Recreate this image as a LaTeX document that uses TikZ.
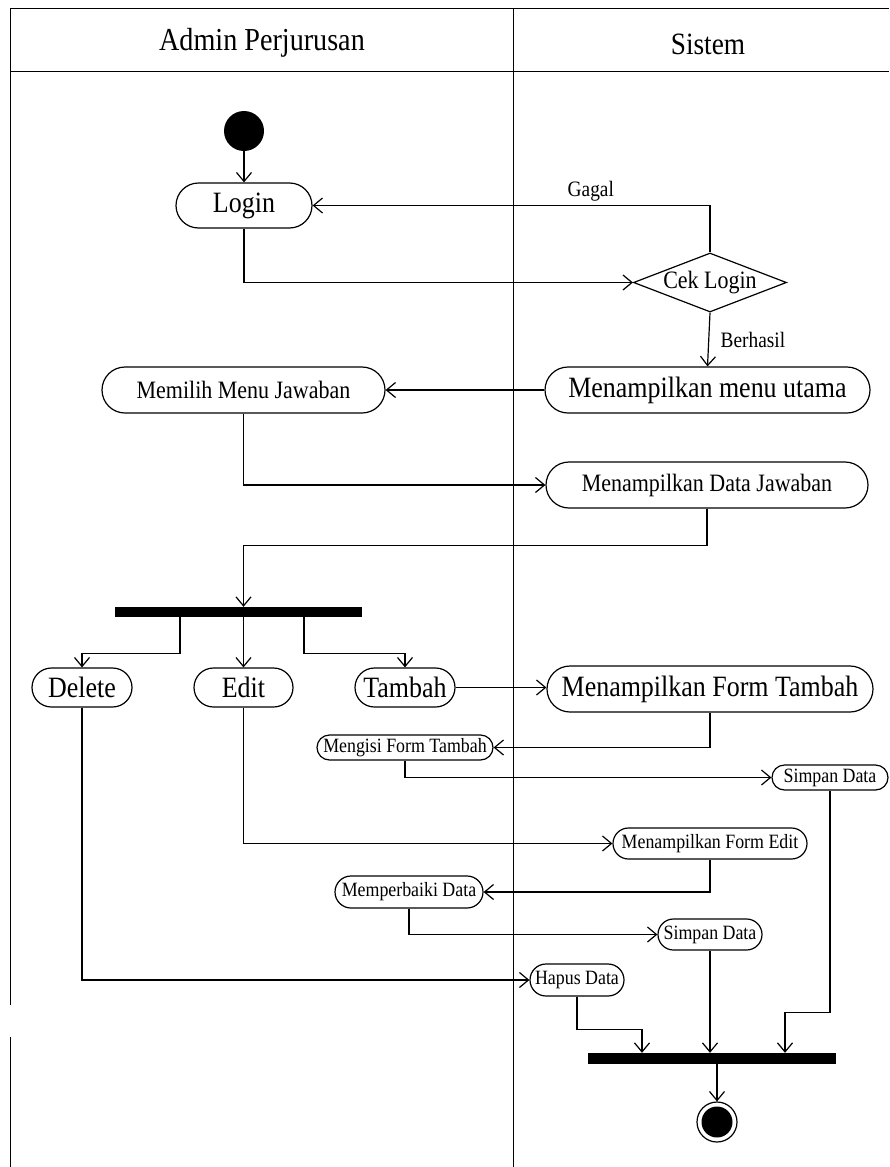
\documentclass[tikz,border=0pt]{standalone}
\usepackage{fontspec}
\setmainfont[FakeStretch=0.88]{Liberation Serif}
\usetikzlibrary{arrows.meta,shapes.misc,shapes.geometric}

\begin{document}
\begin{tikzpicture}[x=1pt,y=-1pt,
    act/.style={rounded rectangle, draw, line width=1.2pt, inner sep=0pt},
    bigtxt/.style={font=\fontsize{29.5}{31}\selectfont},
    midtxt/.style={font=\fontsize{25}{27}\selectfont},
    smalltxt/.style={font=\fontsize{20.3}{22}\selectfont},
    guardtxt/.style={font=\fontsize{22}{24}\selectfont},
    syncbar/.style={rectangle, fill=black, inner sep=0pt},
    flow/.style={draw, line width=1.2pt, -{Straight Barb[length=9pt,width=15pt]}},
    lane/.style={line width=1pt}]

    \useasboundingbox (0,0) rectangle (889,1167);

    % Swimlanes
    \draw[lane] (10,8) -- (889,8);
    \draw[lane] (10,71) -- (889,71);
    \draw[lane] (10,8) -- (10,1005);
    \draw[lane] (10,1037) -- (10,1167);
    \draw[lane] (513,8) -- (513,1167);
    \node[font=\fontsize{32}{34}\selectfont] (admin) at (262,43) {Admin Perjurusan};
    \node[font=\fontsize{31}{34}\selectfont] (sistem) at (708,44) {Sistem};

    % Start and login
    \node[circle, fill=black, minimum size=40pt, inner sep=0pt] (start) at (244,131) {};
    \node[act, bigtxt, minimum width=136pt, minimum height=45pt] (login) at (244,205.5) {Login};
    \node[diamond, draw, line width=1.2pt, midtxt, inner sep=0pt, aspect=2.6,
          minimum width=153pt, minimum height=59pt] (cek) at (710,282.5) {Cek Login};
    \node[act, bigtxt, minimum width=325pt, minimum height=46pt] (menu) at (707.5,390) {Menampilkan menu utama};
    \node[act, midtxt, minimum width=283pt, minimum height=46pt] (memilih) at (243.5,390) {Memilih Menu Jawaban};
    \node[act, midtxt, minimum width=322pt, minimum height=46pt] (datajwb) at (707,485) {Menampilkan Data Jawaban};

    % Fork
    \node[syncbar, minimum width=247pt, minimum height=10pt] (fork) at (238.5,612) {};
    \node[act, bigtxt, minimum width=100pt, minimum height=39pt] (delete) at (82,687.5) {Delete};
    \node[act, bigtxt, minimum width=99pt, minimum height=39pt] (edit) at (243.5,687.5) {Edit};
    \node[act, bigtxt, minimum width=100pt, minimum height=39pt] (tambah) at (405,687.5) {Tambah};

    % Tambah / Edit / Delete
    \node[act, bigtxt, minimum width=326pt, minimum height=46pt] (ftambah) at (710,689) {Menampilkan Form Tambah};
    \node[act, smalltxt, minimum width=176pt, minimum height=25pt] (mengisi) at (405,747.5) {Mengisi Form Tambah};
    \node[act, smalltxt, minimum width=116pt, minimum height=25pt] (simpan1) at (830,777.5) {Simpan Data};
    \node[act, smalltxt, minimum width=194pt, minimum height=31pt] (fedit) at (710,843.5) {Menampilkan Form Edit};
    \node[act, smalltxt, minimum width=148pt, minimum height=32pt] (perbaiki) at (409,892) {Memperbaiki Data};
    \node[act, smalltxt, minimum width=104pt, minimum height=31pt] (simpan2) at (710,934.5) {Simpan Data};
    \node[act, smalltxt, minimum width=94pt, minimum height=32pt] (hapus) at (577,980) {Hapus Data};

    % Join and end
    \node[syncbar, minimum width=248pt, minimum height=11pt] (join) at (712,1058.5) {};
    \node[circle, draw, line width=1.2pt, minimum size=40pt, inner sep=0pt] (endc) at (717,1122) {};
    \node[circle, fill=black, minimum size=31pt, inner sep=0pt] (endcore) at (endc) {};

    % Connections
    \draw[flow] (start) -- (login.north);
    \draw[flow] (login.south) |- (cek.west);
    \draw[flow] (cek.north) |- node[guardtxt, pos=0.65, above] (gagal) {Gagal} (login.east);
    \draw[flow] (cek.south) -- node[guardtxt, right, xshift=8pt] (berhasil) {Berhasil} (menu.north);
    \draw[flow] (menu.west) -- (memilih.east);
    \draw[flow] (memilih.south) |- (datajwb.west);
    \draw[flow] (datajwb.south) -- ++(0,37) -| (fork.north -| edit.north);
    \draw[flow] ([xshift=-58.5pt]fork.south) -- ++(0,36) -| (delete.north);
    \draw[flow] (fork.south -| edit.north) -- (edit.north);
    \draw[flow] ([xshift=65.5pt]fork.south) -- ++(0,36) -| (tambah.north);
    \draw[flow] (tambah.east) -- (tambah.east -| ftambah.west);
    \draw[flow] (ftambah.south) |- (mengisi.east);
    \draw[flow] (mengisi.south) |- (simpan1.west);
    \draw[flow] (edit.south) |- (fedit.west);
    \draw[flow] (fedit.south) |- (perbaiki.east);
    \draw[flow] (perbaiki.south) |- (simpan2.west);
    \draw[flow] (delete.south) |- (hapus.west);
    \draw[flow] (hapus.south) -- ++(0,33) -| ([xshift=-70pt]join.north);
    \draw[flow] (simpan2.south) -- (simpan2.south |- join.north);
    \draw[flow] (simpan1.south) -- ++(0,222) -| ([xshift=73pt]join.north);
    \draw[flow] (join.south -| endc.north) -- (endc.north);
\end{tikzpicture}
\end{document}
